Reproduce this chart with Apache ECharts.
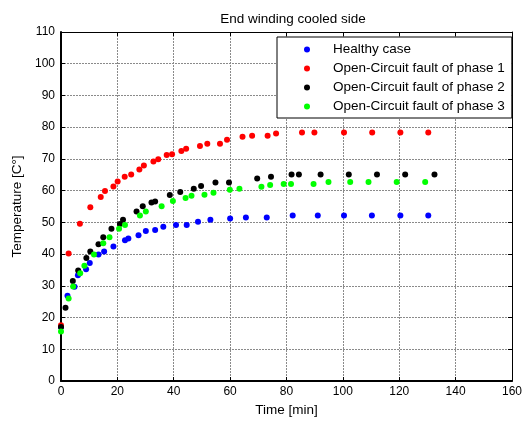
<!DOCTYPE html>
<html>
<head>
<meta charset="utf-8">
<script src="https://cdn.jsdelivr.net/npm/echarts@6/dist/echarts.min.js"></script>
<style>
html, body { margin: 0; padding: 0; background: #fff; }
#chart { width: 525px; height: 422px; }
</style>
</head>
<body>
<div id="chart"></div>
<script>
// data: [time (min), temperature (C)]
var healthy = [
  [0, 17.0], [2.3, 26.9], [4.8, 29.7], [6, 33.3], [8.9, 35.2], [10.2, 37.2],
  [13.3, 39.9], [15.3, 40.8], [18.6, 42.4], [22.7, 44.4], [23.9, 44.9],
  [27.5, 45.9], [30.1, 47.3], [33.4, 47.6], [36.3, 48.6], [40.8, 49.2],
  [44.6, 49.2], [48.6, 50.2], [53, 50.8], [60, 51.2], [65.6, 51.5],
  [73, 51.5], [82.2, 52.2], [91.1, 52.2], [100.4, 52.2], [110.3, 52.2],
  [120.4, 52.2], [130.3, 52.2]
];
var phase1 = [
  [0, 17.6], [2.7, 40.2], [6.7, 49.6], [10.4, 54.8], [14.1, 58.0], [15.6, 59.9],
  [18.6, 61.3], [20.1, 62.9], [22.6, 64.4], [24.9, 65.1], [27.8, 66.7],
  [29.4, 67.9], [32.8, 69.2], [34.5, 69.9], [37.5, 71.2], [39.4, 71.5],
  [42.7, 72.5], [44.4, 73.2], [49.3, 74.1], [51.9, 74.8], [56.4, 74.8],
  [58.9, 76.0], [64.4, 77.0], [67.8, 77.3], [73.3, 77.3], [76.3, 78.0],
  [85.5, 78.3], [89.9, 78.3], [100.4, 78.3], [110.4, 78.3], [120.4, 78.3],
  [130.3, 78.3]
];
var phase2 = [
  [0, 17.0], [1.6, 23.1], [4.2, 31.5], [6.1, 34.8], [9.0, 38.8], [10.4, 40.8],
  [13.3, 43.1], [15, 45.3], [17.9, 48], [20.9, 49.5], [22, 50.8], [26.8, 53.4],
  [29, 55.1], [32.1, 56.3], [33.4, 56.6], [38.6, 58.6], [42.3, 59.6],
  [47.1, 60.6], [49.7, 61.5], [54.8, 62.6], [59.6, 62.6], [69.6, 63.8],
  [74.5, 64.4], [81.8, 65.1], [84.4, 65.1], [92.1, 65.1], [102.1, 65.1],
  [112.1, 65.1], [122.1, 65.1], [132.5, 65.1]
];
var phase3 = [
  [0, 15.6], [2.7, 26], [4.3, 29.8], [6.8, 34], [8.3, 36.3], [11.7, 39.9],
  [15, 43.4], [17.2, 45.3], [20.6, 48], [22.7, 49.2], [28, 52.2], [30.1, 53.4],
  [35.7, 55.1], [39.7, 56.7], [44.2, 57.7], [46.3, 58.4], [50.9, 58.7],
  [54.1, 59.3], [59.9, 60.3], [63.3, 60.6], [71.1, 61.2], [74.2, 61.8],
  [79, 62.1], [81.6, 62.1], [89.6, 62.1], [94.9, 62.7], [102.6, 62.7],
  [109.1, 62.7], [119.1, 62.7], [129.2, 62.7]
];
var seriesNames = [
  "Healthy case",
  "Open-Circuit fault of phase 1",
  "Open-Circuit fault of phase 2",
  "Open-Circuit fault of phase 3"
];
var seriesColors = ["#0000ff", "#ff0000", "#000000", "#00ff00"];

var font = "Liberation Sans, Arial, sans-serif";
var myChart = echarts.init(document.getElementById("chart"));

function frameAxis(pos, min, max, interval, main) {
  return {
    type: "value",
    position: pos,
    min: min,
    max: max,
    interval: interval,
    axisLine: { show: true, onZero: false, lineStyle: { color: "#000", width: main ? 2 : 1 } },
    axisTick: { show: true, inside: true, length: 4, lineStyle: { color: "#000" } },
    axisLabel: main ? { show: true, color: "#000", fontSize: 12, fontFamily: font } : { show: false },
    splitLine: main
      ? { show: true, lineStyle: { color: "#8a8a8a", type: [2, 1], width: 1 } }
      : { show: false }
  };
}

var xMain = frameAxis("bottom", 0, 160, 20, true);
xMain.name = "Time [min]";
xMain.nameLocation = "middle";
xMain.nameGap = 20;
xMain.nameTextStyle = { color: "#000", fontSize: 13.5, fontFamily: font };
xMain.axisLabel.margin = 5;
var yMain = frameAxis("left", 0, 110, 10, true);
yMain.name = "Temperature [C\u00b0]";
yMain.nameLocation = "middle";
yMain.nameGap = 35;
yMain.nameTextStyle = { color: "#000", fontSize: 13.5, fontFamily: font };
yMain.axisLabel.margin = 6;

var allData = [healthy, phase1, phase2, phase3];
var series = [];
for (let i = 0; i < allData.length; i++) {
  series.push({
    name: seriesNames[i],
    type: "scatter",
    symbol: "circle",
    symbolSize: 6,
    itemStyle: { color: seriesColors[i], opacity: 1 },
    data: allData[i]
  });
}

var option = {
  animation: false,
  title: {
    text: "End winding cooled side",
    left: 288,
    textAlign: "center",
    top: 7,
    textStyle: { color: "#000", fontSize: 13.5, fontWeight: "normal", fontFamily: font }
  },
  legend: {
    orient: "vertical",
    left: 277,
    top: 37,
    backgroundColor: "#fff",
    borderColor: "#000",
    borderWidth: 1,
    padding: [5, 7, 4, 27],
    itemWidth: 6,
    itemHeight: 6,
    itemGap: 4,
    icon: "circle",
    textStyle: {
      color: "#000",
      fontSize: 13.5,
      lineHeight: 15,
      fontFamily: font,
      padding: [0, 0, 0, 18]
    },
    data: seriesNames
  },
  grid: { left: 61, right: 9, top: 32, bottom: 41 },
  xAxis: [xMain, frameAxis("top", 0, 160, 20, false)],
  yAxis: [yMain, frameAxis("right", 0, 110, 10, false)],
  series: series
};
myChart.setOption(option);
</script>
</body>
</html>
